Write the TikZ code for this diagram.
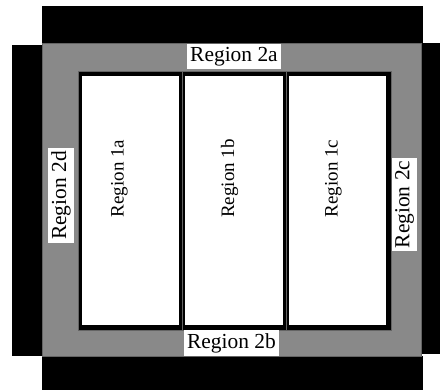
\documentclass[tikz,border=0pt]{standalone}
\usepackage{fontspec}
\setmainfont{Liberation Serif}
\definecolor{regiongray}{RGB}{137,137,137}
\definecolor{edgegray}{RGB}{100,100,100}

\begin{document}
\begin{tikzpicture}[x=0.02cm,y=-0.02cm,
		outerlabel/.style={fill=white,inner xsep=1.7pt,inner ysep=1.6pt,font=\fontsize{12.2}{14}\selectfont},
		innerlabel/.style={rotate=90,inner sep=0pt,font=\fontsize{10.8}{13}\selectfont}]
			\useasboundingbox (0,0) rectangle (440,390);
			% black surround
			\fill[black] (42,6) rectangle (423,43);
			\fill[black] (12,45) rectangle (42,356);
			\fill[black] (421,43) rectangle (440,354);
			\fill[black] (42,356) rectangle (423,390);
			% region 2
			\draw[fill=regiongray,draw=edgegray,line width=0.4pt] (42,43) rectangle (421,356);
			% region 1
			\draw[fill=black,draw=edgegray,line width=0.4pt] (78,71) rectangle (391,330);
			\foreach \xa/\xb in {82/179,185/283,289/386}
				\fill[white] (\xa,76) rectangle (\xb,325);
			\draw[edgegray,line width=0.4pt] (182,71) -- (182,330);
			\draw[edgegray,line width=0.4pt] (286,71) -- (286,330);
			\node[innerlabel] (r1a) at (119.5,178.5) {Region 1a};
			\node[innerlabel] (r1b) at (229.5,178.5) {Region 1b};
			\node[innerlabel] (r1c) at (333.5,178.5) {Region 1c};
			\node[outerlabel] (r2a) at (234,56.5) {Region 2a};
			\node[outerlabel] (r2b) at (231.5,343) {Region 2b};
			\node[outerlabel,rotate=90] (r2c) at (404.5,204.5) {Region 2c};
			\node[outerlabel,rotate=90] (r2d) at (61,195.5) {Region 2d};
		\end{tikzpicture}
\end{document}
